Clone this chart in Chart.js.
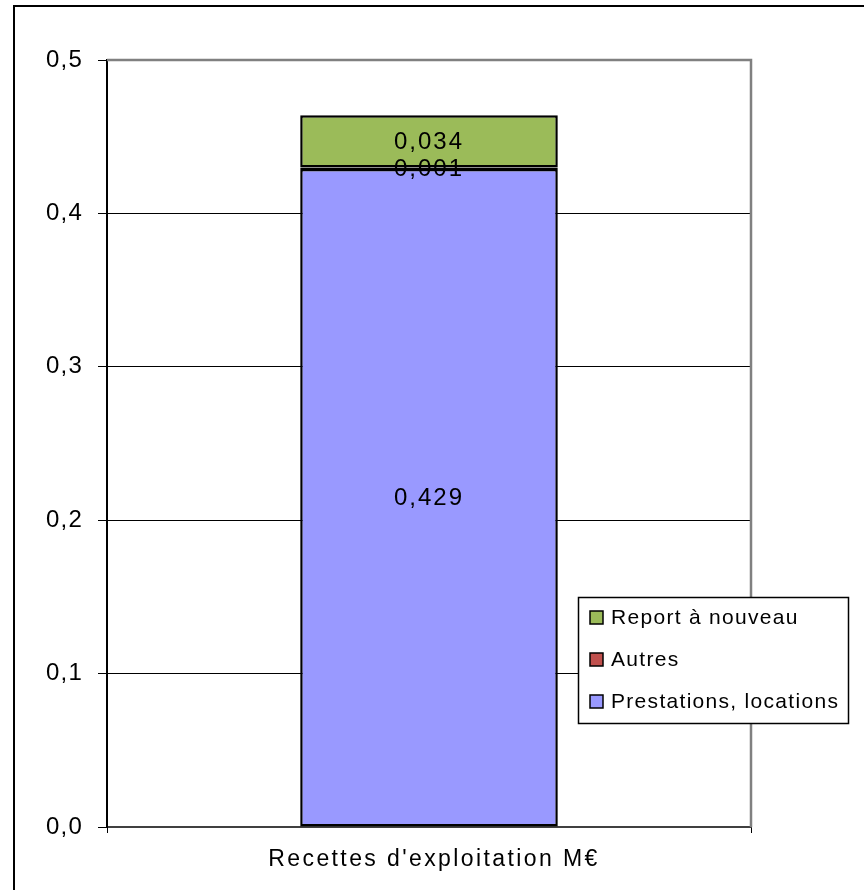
<!DOCTYPE html>
<html lang="fr">
<head>
  <meta charset="UTF-8" />
  <title>Recettes d'exploitation</title>
  <script src="https://cdn.jsdelivr.net/npm/chart.js"></script>
  <style>
    body { margin: 0; background: #fff; }
    .wrap { position: relative; width: 864px; height: 890px; overflow: hidden; }
    .frame { position: absolute; left: 13px; top: 5px; width: 900px; height: 950px; border-left: 2px solid #000; border-top: 2px solid #000; }
    canvas { position: absolute; left: 0; top: 0; }
  </style>
</head>
<body>
  <div class="wrap">
    <div class="frame"></div>
    <canvas id="chart" width="864" height="890"></canvas>
  </div>

  <script>
    const categories = ["Recettes d'exploitation M€"];
    const seriesNames = ['Prestations, locations', 'Autres', 'Report à nouveau'];
    const seriesColors = ['#9999FF', '#C0504D', '#9BBB59'];
    const prestations = [0.429];
    const autres = [0.001];
    const report = [0.034];
    const yTicks = [0, 0.1, 0.2, 0.3, 0.4, 0.5];

    const FONT = 'Liberation Sans, Arial, sans-serif';
    const fmt = (v, d) => v.toFixed(d).replace('.', ',');

    // le texte de l'original est plus espacé qu'Arial
    const spacing = {
      id: 'spacing',
      beforeDraw(chart) { chart.ctx.letterSpacing = '1.2px'; }
    };

    // valeurs au centre de chaque segment
    const valueLabels = {
      id: 'valueLabels',
      afterDatasetsDraw(chart) {
        const ctx = chart.ctx;
        ctx.save();
        ctx.letterSpacing = '2px';
        ctx.font = '24px ' + FONT;
        ctx.fillStyle = '#000';
        ctx.textAlign = 'center';
        ctx.textBaseline = 'middle';
        chart.data.datasets.forEach((ds, i) => {
          chart.getDatasetMeta(i).data.forEach((el, j) => {
            ctx.fillText(fmt(ds.data[j], 3), el.x, (el.y + el.base) / 2 + 1);
          });
        });
        ctx.restore();
        // étiquette de l'axe x dessinée après (ticks.z = 1)
        ctx.letterSpacing = '2.4px';
      }
    };

    // bordure grise de la zone de tracé
    const plotBorder = {
      id: 'plotBorder',
      beforeDatasetsDraw(chart) {
        const { ctx, chartArea: a } = chart;
        ctx.save();
        ctx.strokeStyle = '#808080';
        ctx.lineWidth = 2.5;
        ctx.beginPath();
        ctx.moveTo(a.left, a.top);
        ctx.lineTo(a.right, a.top);
        ctx.lineTo(a.right, a.bottom);
        ctx.stroke();
        ctx.restore();
      }
    };

    // légende encadrée, à l'intérieur du tracé
    const boxLegend = {
      id: 'boxLegend',
      afterDraw(chart) {
        const ctx = chart.ctx;
        const x = 578, y = 597, w = 270, h = 126;
        ctx.save();
        ctx.letterSpacing = '1.3px';
        ctx.fillStyle = '#fff';
        ctx.fillRect(x, y, w, h);
        ctx.strokeStyle = '#000';
        ctx.lineWidth = 1.5;
        ctx.strokeRect(x + 0.5, y + 0.5, w, h);
        ctx.font = '21px ' + FONT;
        ctx.textBaseline = 'middle';
        const items = chart.data.datasets.slice().reverse();
        items.forEach((ds, i) => {
          const cy = y + 20 + i * 42;
          ctx.fillStyle = ds.backgroundColor;
          ctx.fillRect(590, cy - 6, 13, 13);
          ctx.strokeStyle = '#000';
          ctx.lineWidth = 1.5;
          ctx.strokeRect(590, cy - 6, 13, 13);
          ctx.fillStyle = '#000';
          ctx.fillText(ds.label, 611, cy + 1);
        });
        ctx.restore();
      }
    };

    const values = [prestations, autres, report];

    new Chart(document.getElementById('chart'), {
      type: 'bar',
      data: {
        labels: categories,
        datasets: seriesNames.map((name, i) => ({
          label: name,
          data: values[i],
          backgroundColor: seriesColors[i],
          borderColor: '#000',
          borderWidth: 2.5,
          borderSkipped: false,
          categoryPercentage: 1,
          barPercentage: 0.4
        }))
      },
      options: {
        responsive: false,
        animation: false,
        layout: { padding: { left: 0, top: 60, right: 113, bottom: 0 } },
        plugins: { legend: { display: false }, tooltip: { enabled: false } },
        scales: {
          x: {
            stacked: true,
            grid: { offset: true, drawOnChartArea: false, drawTicks: true, tickLength: 6, color: '#000' },
            border: { color: '#404040', width: 2 },
            ticks: { z: 1, color: '#000', font: { family: FONT, size: 23 }, padding: 13, labelOffset: 5 },
            afterFit: s => { s.height = 63; }
          },
          y: {
            stacked: true,
            min: 0,
            max: 0.5,
            afterBuildTicks: s => { s.ticks = yTicks.map(v => ({ value: v })); },
            grid: { color: '#000', lineWidth: 1, tickLength: 9 },
            border: { color: '#000', width: 2 },
            ticks: { color: '#000', font: { family: FONT, size: 24 }, padding: 15, callback: v => fmt(v, 1) },
            afterFit: s => { s.width = 107; }
          }
        }
      },
      plugins: [spacing, plotBorder, valueLabels, boxLegend]
    });
  </script>
</body>
</html>
